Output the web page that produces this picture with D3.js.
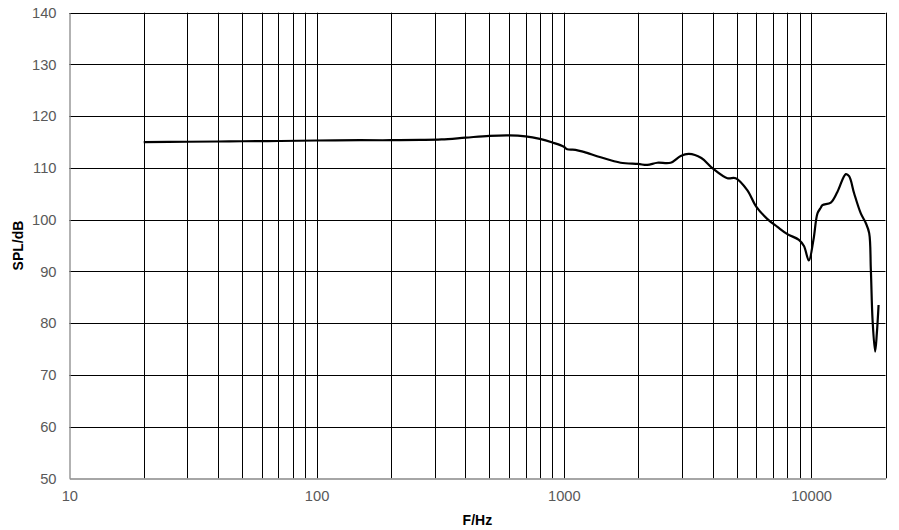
<!DOCTYPE html>
<html><head><meta charset="utf-8">
<script src="https://cdn.jsdelivr.net/npm/d3@7/dist/d3.min.js"></script>
<style>body{margin:0;background:#fff;}svg{display:block;}</style>
</head><body>
<script>
const freqs = [20,30,40,50,70,100,150,200,263,320,400,500,600,700,800,900,1000,1032,1114,1205,1409,1697,2000,2176,2388,2704,2969,3206,3600,4000,4586,4956,5520,6000,6662,7310,8020,8930,9360,9796,10225,10615,10945,11120,12020,12790,13820,14250,14930,15890,16660,17180,17450,17730,18160,18450,18750];
const spl   = [115.0,115.05,115.1,115.15,115.2,115.3,115.35,115.35,115.4,115.5,115.85,116.2,116.3,116.1,115.6,114.9,114.1,113.6,113.5,113.1,112.05,111.0,110.76,110.57,111.0,111.0,112.3,112.7,111.9,109.9,108.0,108.0,105.7,102.5,100.1,98.6,97.2,96.1,94.9,92.1,96.1,101.2,102.3,102.8,103.3,105.4,108.8,108.4,105.1,101.2,99.3,97.4,90.3,80.6,74.5,78.0,83.5];
const xTickValues = [10,100,1000,10000];
const xGridValues = [20,30,40,50,60,70,80,90,100,200,300,400,500,600,700,800,900,1000,2000,3000,4000,5000,6000,7000,8000,9000,10000,20000];
const yTickValues = [50,60,70,80,90,100,110,120,130,140];

const W = 899, H = 530;
const L = 69.3, R = 885.5, T = 12.7, B = 478.3;
const svg = d3.select("body").append("svg").attr("width", W).attr("height", H);
const x = d3.scaleLog().domain([10, 20000]).range([L, R]);
const y = d3.scaleLinear().domain([50, 140]).range([B, T]);

// grid
svg.append("g").selectAll("line").data(yTickValues.filter(v => v > 50)).join("line")
  .attr("x1", L).attr("x2", R).attr("y1", d => Math.round(y(d)) + 0.5).attr("y2", d => Math.round(y(d)) + 0.5)
  .attr("stroke", "#000").attr("stroke-width", 1);
svg.append("g").selectAll("line").data(xGridValues).join("line")
  .attr("y1", T).attr("y2", B).attr("x1", d => Math.round(x(d)) + 0.5).attr("x2", d => Math.round(x(d)) + 0.5)
  .attr("stroke", "#000").attr("stroke-width", 1);

// axes
const yAxis = svg.append("g").attr("transform", `translate(${Math.round(L)+0.5},0)`)
  .call(d3.axisLeft(y).tickValues(yTickValues).tickSize(0).tickPadding(13).tickFormat(d3.format("d")));
const xAxis = svg.append("g").attr("transform", `translate(0,${Math.round(B)+0.5})`)
  .call(d3.axisBottom(x).tickValues(xTickValues).tickSize(0).tickPadding(12).tickFormat(d3.format("d")));
[yAxis, xAxis].forEach(g => {
  g.select(".domain").attr("stroke", "#898989").attr("stroke-width", 1.3);
  g.selectAll("text").attr("fill", "#595959").attr("font-family", "Liberation Sans, Arial, sans-serif").attr("font-size", "14.7px");
});

// axis titles
svg.append("text").attr("x", (L + R) / 2).attr("y", 525).attr("text-anchor", "middle")
  .attr("font-family", "Liberation Sans, Arial, sans-serif").attr("font-weight", "bold").attr("font-size", "14px").attr("fill", "#000").text("F/Hz");
svg.append("text").attr("transform", `translate(23,${(T + B) / 2}) rotate(-90)`).attr("text-anchor", "middle")
  .attr("font-family", "Liberation Sans, Arial, sans-serif").attr("font-weight", "bold").attr("font-size", "14px").attr("fill", "#000").text("SPL/dB");

// curve
const data = freqs.map((f, i) => ({f, v: spl[i]}));
svg.append("path").datum(data)
  .attr("fill", "none").attr("stroke", "#000").attr("stroke-width", 2.2).attr("stroke-linejoin", "round")
  .attr("d", d3.line().x(d => x(d.f)).y(d => y(d.v)).curve(d3.curveCatmullRom.alpha(0.5)));
</script>
</body></html>
